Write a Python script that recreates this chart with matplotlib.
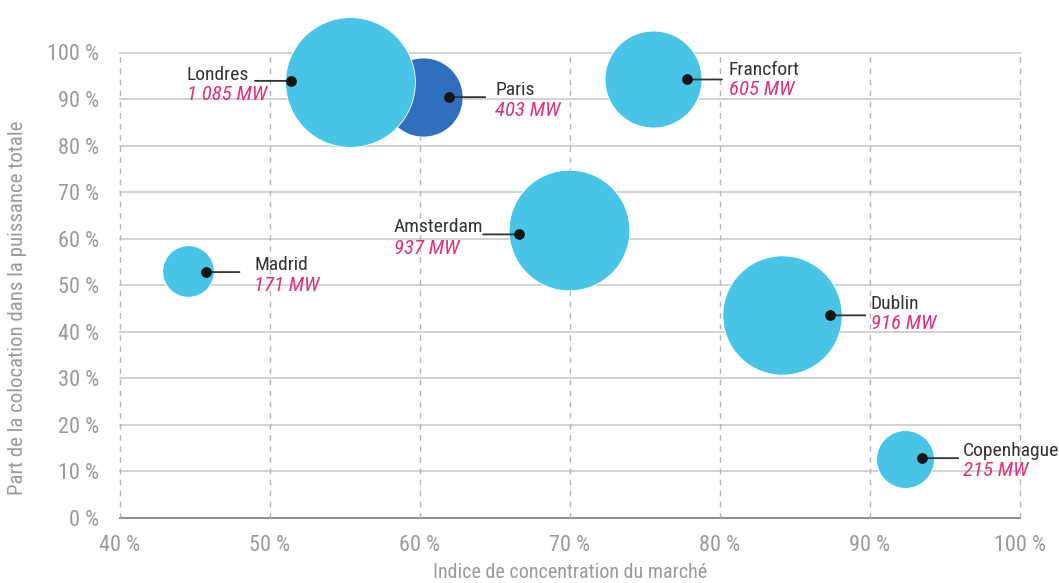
import matplotlib
matplotlib.use("Agg")
import matplotlib.pyplot as plt
from matplotlib import font_manager

# ---- data ----
cities = ["Londres", "Paris", "Francfort", "Amsterdam", "Madrid", "Dublin", "Copenhague"]
mw = [1085, 403, 605, 937, 171, 916, 215]
mw_labels = ["1 085 MW", "403 MW", "605 MW", "937 MW", "171 MW", "916 MW", "215 MW"]
bubble_x = [55.3, 60.2, 75.55, 69.9, 44.5, 84.15, 92.35]
bubble_y = [93.7, 90.5, 94.2, 61.8, 53.0, 43.5, 12.7]
dot_x = [51.4, 61.95, 77.8, 66.6, 45.7, 87.3, 93.45]
dot_y = [93.9, 90.4, 94.2, 60.9, 52.8, 43.5, 12.8]

x_ticks = [40, 50, 60, 70, 80, 90, 100]
x_tick_labels = ["40 %", "50 %", "60 %", "70 %", "80 %", "90 %", "100 %"]
y_ticks = [0, 10, 20, 30, 40, 50, 60, 70, 80, 90, 100]
y_tick_labels = ["0 %", "10 %", "20 %", "30 %", "40 %", "50 %", "60 %", "70 %", "80 %", "90 %", "100 %"]

x_title = "Indice de concentration du marché"
y_title = "Part de la colocation dans la puissance totale"

# ---- fonts ----
names = {f.name for f in font_manager.fontManager.ttflist}
pref = ["Roboto Condensed", "Liberation Sans Narrow", "Archivo Narrow",
        "Open Sans Condensed", "PT Sans Narrow", "Liberation Sans"]
chosen = next((n for n in pref if n in names), "DejaVu Sans")
plt.rcParams["font.family"] = [chosen, "DejaVu Sans"]

LIGHT = "#48c5e6"
DARK = "#2f6fbd"
colors = [LIGHT, DARK, LIGHT, LIGHT, LIGHT, LIGHT, LIGHT]
PINK = "#e2307c"
GREY_TXT = "#9a9a9a"

# per-label layout in pixels: (leader end dx, text left dx, name dy above, MW dy below)
layout = {
    "Londres":    (-36, -104, 6, 14),
    "Paris":      (36, 46, 7, 13),
    "Francfort":  (35, 42, 9.5, 10),
    "Amsterdam":  (-36, -125, 7, 14),
    "Madrid":     (34, 48.5, 7, 13),
    "Dublin":     (36, 41.5, 11, 8.5),
    "Copenhague": (36.5, 41.5, 7, 12.5),
}

DPI = 100
fig = plt.figure(figsize=(10.59, 5.83), dpi=DPI)
ax = fig.add_axes([120 / 1059, 65.3 / 583, 900 / 1059, 465.2 / 583])
ax.set_xlim(40, 100)
ax.set_ylim(0, 100)
for s in ax.spines.values():
    s.set_visible(False)

for yv in y_ticks[1:]:
    ax.axhline(yv, color="#cfcfcf", lw=1.3, zorder=1, clip_on=False)
ax.axhline(0, color="#8c8c8c", lw=1.4, zorder=1, clip_on=False)
for xv in x_ticks:
    ax.axvline(xv, color="#b5b5b5", lw=1.0, ls=(0, (4, 4)), zorder=1, clip_on=False)

ax.set_xticks(x_ticks)
ax.set_xticklabels(x_tick_labels)
ax.set_yticks(y_ticks)
ax.set_yticklabels(y_tick_labels)
ax.tick_params(axis="both", length=0, colors=GREY_TXT, labelsize=16)
ax.tick_params(axis="x", pad=12.5)
ax.tick_params(axis="y", pad=15)

ax.set_xlabel(x_title, fontsize=14.5, color=GREY_TXT, va="center")
ax.xaxis.set_label_coords(0.5, -(572 - 517.7) / 465.2)
ax.set_ylabel(y_title, fontsize=15, color=GREY_TXT, va="center")
ax.yaxis.set_label_coords(-(120 - 18) / 900, (517.7 - 308) / 465.2)

# bubble radius (px) = 1.97 * sqrt(MW)
k = 1.97 * 72 / DPI
sizes = [(2 * k) ** 2 * v for v in mw]
order = [1, 0, 2, 3, 4, 5, 6]
for i in order:
    ax.scatter([bubble_x[i]], [bubble_y[i]], s=sizes[i], color=colors[i],
               edgecolors="white", linewidths=0.6, zorder=3, clip_on=False)

p = 72 / DPI
for i, c in enumerate(cities):
    le, tx, ndy, mdy = layout[c]
    ax.annotate("", xy=(dot_x[i], dot_y[i]), xytext=(le * p, 0),
                textcoords="offset points",
                arrowprops=dict(arrowstyle="-", color="#333333", lw=1.3,
                                shrinkA=0, shrinkB=0), zorder=4)
    ax.scatter([dot_x[i]], [dot_y[i]], s=45, color="#151515", zorder=5, clip_on=False)
    ax.annotate(c, xy=(dot_x[i], dot_y[i]), xytext=(tx * p, ndy * p),
                textcoords="offset points", ha="left", va="center",
                fontsize=14, color="#333333", zorder=6)
    ax.annotate(mw_labels[i], xy=(dot_x[i], dot_y[i]), xytext=(tx * p, -mdy * p),
                textcoords="offset points", ha="left", va="center",
                fontsize=15, color=PINK, style="italic", zorder=6)

fig.savefig("out.png", dpi=DPI, facecolor="white")
